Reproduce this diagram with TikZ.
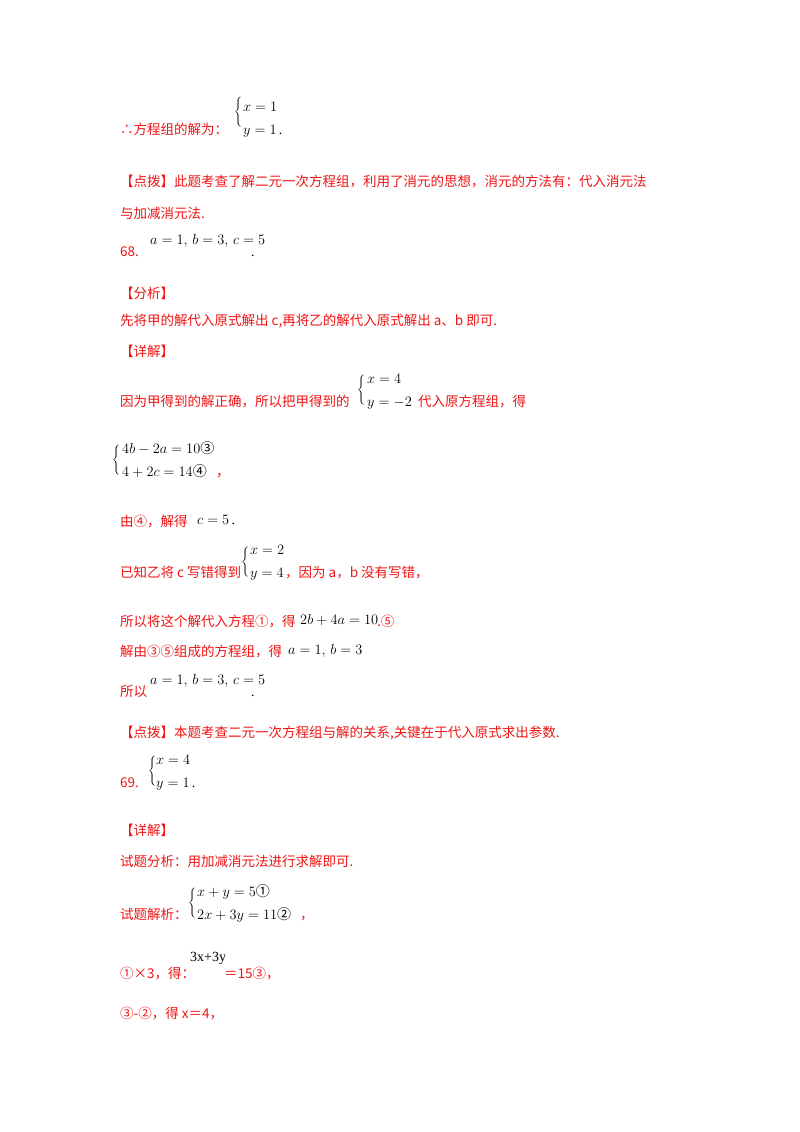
\documentclass[tikz,border=0pt]{standalone}
\usepackage{fontspec}
\setmainfont{Liberation Serif}
\newfontfamily\cjk{Noto Sans CJK SC}
\definecolor{rd}{RGB}{240,20,20}
\newcommand{\bracebig}{$\left\{\rule[-11pt]{0pt}{24pt}\right.$}
\newcommand{\cc}[1]{{\cjk #1}}
\begin{document}
\begin{tikzpicture}[x=1pt,y=-1pt,
  t/.style={anchor=base west,inner sep=0pt,text=rd,font=\cjk\fontsize{13.5}{16}\selectfont},
  m/.style={anchor=base west,inner sep=0pt,font=\fontsize{14}{16}\selectfont},
  br/.style={anchor=west,inner sep=0pt,font=\fontsize{14}{16}\selectfont}]
\fill[white] (0,0) rectangle (800,1132);
\useasboundingbox (0,0) rectangle (800,1132);
\node[t] (a1) at (120,134) {∴方程组的解为：};
\node[br] (b1) at (234,112) {\bracebig};
\node[m] (a2) at (243,111) {$x=1$};
\node[m] (a3) at (243,134) {$y=1$\,.};
\node[t] (a4) at (120,186) {【点拨】此题考查了解二元一次方程组，利用了消元的思想，消元的方法有：代入消元法};
\node[t] (a5) at (120,218) {与加减消元法.};
\node[t] (a6) at (120,256) {68.};
\node[m] (a7) at (150,244) {$a=1,\,b=3,\,c=5$};
\node[m] (a8) at (251,256) {.};
\node[t] (a9) at (120,298) {【分析】};
\node[t] (a10) at (120,325) {先将甲的解代入原式解出 c,再将乙的解代入原式解出 a、b 即可.};
\node[t] (a11) at (120,356) {【详解】};
\node[t] (a12) at (120,406) {因为甲得到的解正确，所以把甲得到的};
\node[br] (b2) at (357,390) {\bracebig};
\node[m] (a13) at (367,383) {$x=4$};
\node[m] (a14) at (367,406) {$y=-2$};
\node[t] (a15) at (418,406) {代入原方程组，得};
\node[br] (b3) at (112,460) {\bracebig};
\node[m] (a16) at (122,453) {$4b-2a=10$\cc{③}};
\node[m] (a17) at (122,476) {$4+2c=14$\cc{④}};
\node[t] (a18) at (216,476) {，};
\node[t] (a19) at (120,526) {由④，解得};
\node[m] (a20) at (197,524) {$c=5$\,.};
\node[t] (a21) at (120,577) {已知乙将 \textit{c} 写错得到};
\node[br] (b4) at (241,562) {\bracebig};
\node[m] (a22) at (250,554) {$x=2$};
\node[m] (a23) at (250,577) {$y=4$};
\node[t] (a24) at (285,577) {，因为 \textit{a}，\textit{b} 没有写错，};
\node[t] (a25) at (120,626) {所以将这个解代入方程①，得};
\node[m] (a26) at (300,624) {$2b+4a=10$};
\node[t] (a27) at (377,626) {.⑤};
\node[t] (a28) at (120,656) {解由③⑤组成的方程组，得};
\node[m] (a29) at (288,654) {$a=1,\,b=3$};
\node[t] (a30) at (120,696) {所以};
\node[m] (a31) at (150,684) {$a=1,\,b=3,\,c=5$};
\node[m] (a32) at (251,696) {.};
\node[t] (a33) at (120,737) {【点拨】本题考查二元一次方程组与解的关系,关键在于代入原式求出参数.};
\node[t] (a34) at (120,787) {69.};
\node[br] (b5) at (148,771) {\bracebig};
\node[m] (a35) at (156,764) {$x=4$};
\node[m] (a36) at (156,787) {$y=1$\,.};
\node[t] (a37) at (120,835) {【详解】};
\node[t] (a38) at (120,866) {试题分析：用加减消元法进行求解即可.};
\node[br] (b6) at (188,903) {\bracebig};
\node[m] (a39) at (197,896) {$x+y=5$\cc{①}};
\node[m] (a40) at (197,919) {$2x+3y=11$\cc{②}};
\node[t] (a41) at (120,919) {试题解析：};
\node[t] (a42) at (300,919) {，};
\node[t] (a43) at (120,978) {①×3，得：};
\node[m] (a44) at (190,961) {3x+3y};
\node[t] (a45) at (224,978) {＝15③，};
\node[t] (a46) at (120,1018) {③-②，得 x＝4，};
\end{tikzpicture}
\end{document}
